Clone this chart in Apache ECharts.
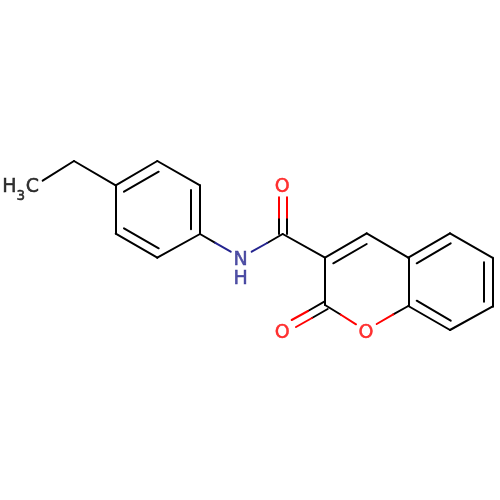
<!DOCTYPE html>
<html><head><meta charset="utf-8">
<style>html,body{margin:0;padding:0;background:#fff}#c{width:500px;height:500px}</style>
<script src="https://cdn.jsdelivr.net/npm/echarts@6/dist/echarts.min.js"></script>
</head><body><div id="c"></div>
<script>
const blackBonds = [
  [42.7,180.7,74,161],[74,161,115.7,185.3],
  [115.7,185.3,157.3,161],[157.3,161,200,185.3],[200,185.3,200,234],[200,234,157.3,257.7],[157.3,257.7,115.7,233.7],[115.7,233.7,115.7,185.3],
  [124,191.7,158.7,171.7],[190.7,190,190.7,229.3],[124,228.3,158.7,248.3],
  [200,234,215.3,242.8],[267.2,243,282.7,234],
  [282.7,234,325,257.7],[278.7,234,278.7,217.7],[287,234,287,217.7],
  [325,257.7,366.7,233.3],[333.3,263.3,366.7,244],[325,257.7,325,305],
  [366.7,233.3,408.3,257.7],[408.3,257.7,450,233.3],[450,233.3,492.3,257.7],[492.3,257.7,492.3,306.7],[492.3,306.7,450,330],[450,330,408.3,306],[408.3,306,408.3,257.7],
  [416.7,263.3,450.7,243.3],[483.3,262.3,483.3,301.7],[416.7,300.7,450.7,320.7],
  [408.3,306,393.3,314.3],[325,305,340.5,314.5],[324.3,301.7,308,311],[327.7,309,312,318]
];
const navyBonds = [[215.3,242.8,230.7,251.7],[251.7,251.7,267.2,243]];
const redBonds = [
  [278.7,217.7,278.7,197.3],[287,217.7,287,197.3],
  [393.3,314.3,376.7,324],[340.5,314.5,356,324.3],
  [308,311,291.7,320],[312,318,296,327]
];
const atomText = ['H','3','C','N','H','O','O','O'];
const atomX = [9.5,20.7,32.5,240.7,240.7,282.3,282.3,366];
const atomY = [187.5,196,187.5,260,279,187,332.7,332.7];
const atomColor = ['#000000','#000000','#000000','#24248f','#24248f','#ff0000','#ff0000','#ff0000'];
const atomSize = [19,13.5,19,19,19,19,19,19];
const toLines = (segs, color) => ({
  type:'lines', coordinateSystem:'cartesian2d', polyline:false, silent:true, animation:false,
  lineStyle:{color:color,width:2,opacity:1,cap:'round',curveness:0},
  data:segs.map(s=>({coords:[[s[0],s[1]],[s[2],s[3]]]}))
});
const chart = echarts.init(document.getElementById('c'),null,{renderer:'canvas'});
chart.setOption({
  backgroundColor:'#ffffff', animation:false,
  grid:{left:0,right:0,top:0,bottom:0},
  xAxis:{type:'value',min:0,max:500,show:false},
  yAxis:{type:'value',min:0,max:500,inverse:true,show:false},
  series:[
    toLines(blackBonds,'#000000'),
    toLines(navyBonds,'#24248f'),
    toLines(redBonds,'#ff0000'),
    {type:'scatter',silent:true,animation:false,symbolSize:1,itemStyle:{color:'rgba(0,0,0,0)'},
     data:atomText.map((t,i)=>({value:[atomX[i],atomY[i]],
       label:{show:true,position:'inside',align:'center',verticalAlign:'middle',formatter:t,color:atomColor[i],
         fontFamily:'DejaVu Sans',fontSize:atomSize[i],textBorderColor:atomColor[i],textBorderWidth:0.5}}))
    }
  ]
});
</script></body></html>
